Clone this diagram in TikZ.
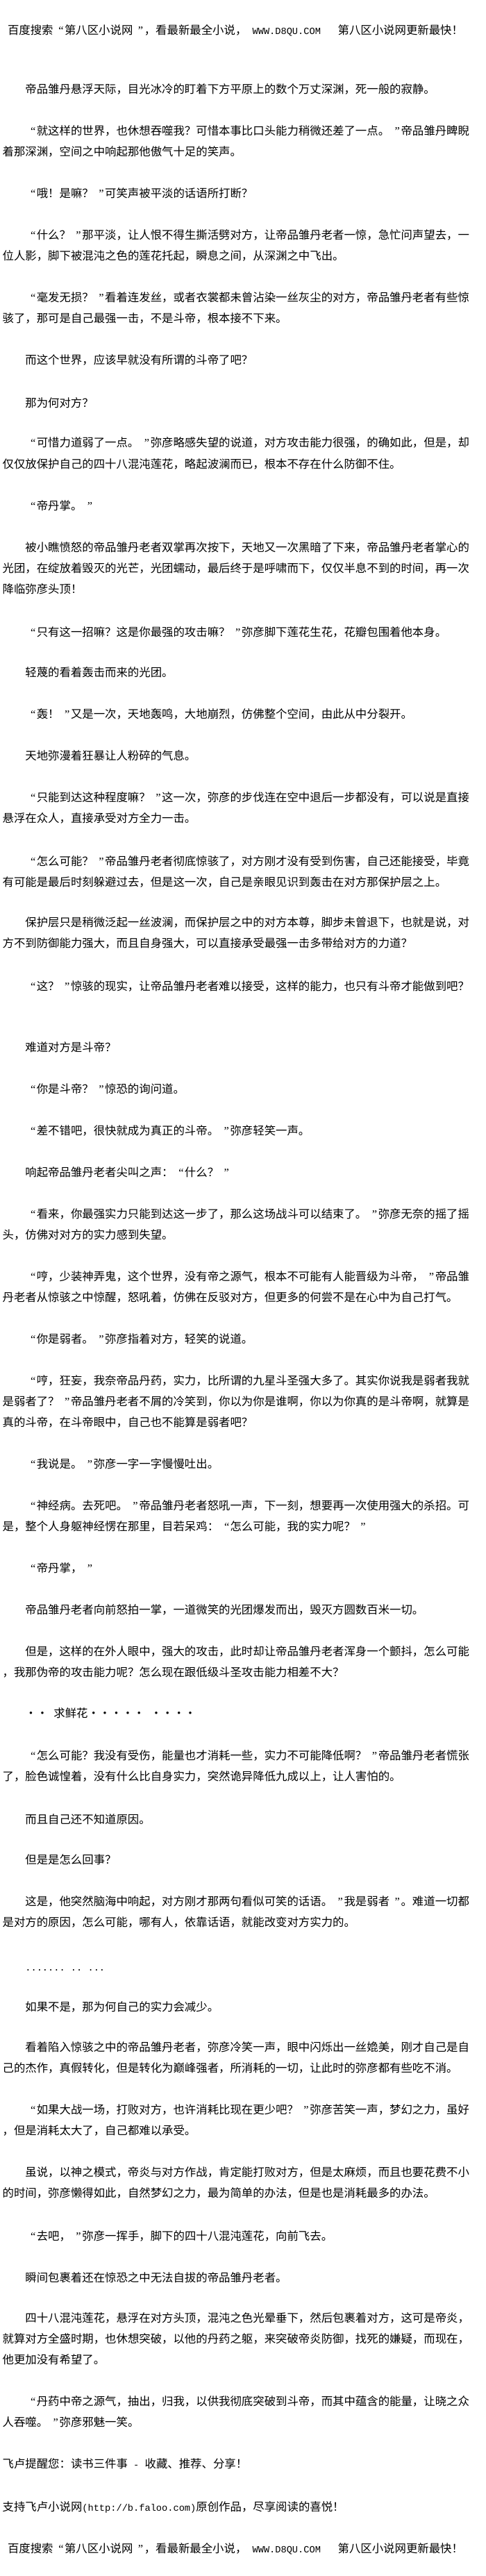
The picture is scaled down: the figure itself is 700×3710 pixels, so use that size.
\documentclass[tikz,border=0pt]{standalone}
\usepackage{fontspec}
\setmainfont{Noto Sans CJK SC}
\newfontfamily\mono{Liberation Mono}[Scale=0.8333]
\newfontfamily\qf{Liberation Serif}
\newcommand\oq{\makebox[1em][r]{{\qf “}\hspace{0.08em}}}
\newcommand\cq{\makebox[1em][r]{{\qf ”}\hspace{0.1em}}}
\newcommand\hsp{{\mono~}}
\begin{document}
\begin{tikzpicture}[x=1pt,y=-1pt,
  txt/.style={anchor=base west,inner sep=0pt,outer sep=0pt,yshift=-6.2pt,
    font=\fontsize{16.4pt}{20pt}\selectfont}]
\fill[white] (0,0) rectangle (700,3710);
\useasboundingbox (0,0) rectangle (700,3710);
\node[txt] (l01) at (11,43) {百度搜索\oq{}第八区小说网\cq{}，看最新最全小说，{\mono~WWW.D8QU.COM~~~}第八区小说网更新最快！};
\node[txt] (l02) at (36.4,128) {帝品雏丹悬浮天际，目光冰冷的盯着下方平原上的数个万丈深渊，死一般的寂静。};
\node[txt] (l03) at (36.4,188) {\oq{}就这样的世界，也休想吞噬我？可惜本事比口头能力稍微还差了一点。\cq{}帝品雏丹睥睨};
\node[txt] (l04) at (3.6,218) {着那深渊，空间之中响起那他傲气十足的笑声。};
\node[txt] (l05) at (36.4,278) {\oq{}哦！是嘛？\cq{}可笑声被平淡的话语所打断？};
\node[txt] (l06) at (36.4,338) {\oq{}什么？\cq{}那平淡，让人恨不得生撕活劈对方，让帝品雏丹老者一惊，急忙问声望去，一};
\node[txt] (l07) at (3.6,368) {位人影，脚下被混沌之色的莲花托起，瞬息之间，从深渊之中飞出。};
\node[txt] (l08) at (36.4,428) {\oq{}毫发无损？\cq{}看着连发丝，或者衣裳都未曾沾染一丝灰尘的对方，帝品雏丹老者有些惊};
\node[txt] (l09) at (3.6,458) {骇了，那可是自己最强一击，不是斗帝，根本接不下来。};
\node[txt] (l10) at (36.4,518) {而这个世界，应该早就没有所谓的斗帝了吧？};
\node[txt] (l11) at (36.4,580) {那为何对方？};
\node[txt] (l12) at (36.4,637) {\oq{}可惜力道弱了一点。\cq{}弥彦略感失望的说道，对方攻击能力很强，的确如此，但是，却};
\node[txt] (l13) at (3.6,668) {仅仅放保护自己的四十八混沌莲花，略起波澜而已，根本不存在什么防御不住。};
\node[txt] (l14) at (36.4,728) {\oq{}帝丹掌。\cq{}};
\node[txt] (l15) at (36.4,788) {被小瞧愤怒的帝品雏丹老者双掌再次按下，天地又一次黑暗了下来，帝品雏丹老者掌心的};
\node[txt] (l16) at (3.6,818) {光团，在绽放着毁灭的光芒，光团蠕动，最后终于是呼啸而下，仅仅半息不到的时间，再一次};
\node[txt] (l17) at (3.6,848) {降临弥彦头顶！};
\node[txt] (l18) at (36.4,910) {\oq{}只有这一招嘛？这是你最强的攻击嘛？\cq{}弥彦脚下莲花生花，花瓣包围着他本身。};
\node[txt] (l19) at (36.4,968) {轻蔑的看着轰击而来的光团。};
\node[txt] (l20) at (36.4,1028) {\oq{}轰！\cq{}又是一次，天地轰鸣，大地崩烈，仿佛整个空间，由此从中分裂开。};
\node[txt] (l21) at (36.4,1088) {天地弥漫着狂暴让人粉碎的气息。};
\node[txt] (l22) at (36.4,1148) {\oq{}只能到达这种程度嘛？\cq{}这一次，弥彦的步伐连在空中退后一步都没有，可以说是直接};
\node[txt] (l23) at (3.6,1178) {悬浮在众人，直接承受对方全力一击。};
\node[txt] (l24) at (36.4,1240) {\oq{}怎么可能？\cq{}帝品雏丹老者彻底惊骇了，对方刚才没有受到伤害，自己还能接受，毕竟};
\node[txt] (l25) at (3.6,1270) {有可能是最后时刻躲避过去，但是这一次，自己是亲眼见识到轰击在对方那保护层之上。};
\node[txt] (l26) at (36.4,1328) {保护层只是稍微泛起一丝波澜，而保护层之中的对方本尊，脚步未曾退下，也就是说，对};
\node[txt] (l27) at (3.6,1358) {方不到防御能力强大，而且自身强大，可以直接承受最强一击多带给对方的力道？};
\node[txt] (l28) at (36.4,1420) {\oq{}这？\cq{}惊骇的现实，让帝品雏丹老者难以接受，这样的能力，也只有斗帝才能做到吧？};
\node[txt] (l29) at (36.4,1508) {难道对方是斗帝？};
\node[txt] (l30) at (36.4,1568) {\oq{}你是斗帝？\cq{}惊恐的询问道。};
\node[txt] (l31) at (36.4,1628) {\oq{}差不错吧，很快就成为真正的斗帝。\cq{}弥彦轻笑一声。};
\node[txt] (l32) at (36.4,1688) {响起帝品雏丹老者尖叫之声：\oq{}什么？\cq{}};
\node[txt] (l33) at (36.4,1748) {\oq{}看来，你最强实力只能到达这一步了，那么这场战斗可以结束了。\cq{}弥彦无奈的摇了摇};
\node[txt] (l34) at (3.6,1778) {头，仿佛对对方的实力感到失望。};
\node[txt] (l35) at (36.4,1838) {\oq{}哼，少装神弄鬼，这个世界，没有帝之源气，根本不可能有人能晋级为斗帝，\cq{}帝品雏};
\node[txt] (l36) at (3.6,1868) {丹老者从惊骇之中惊醒，怒吼着，仿佛在反驳对方，但更多的何尝不是在心中为自己打气。};
\node[txt] (l37) at (36.4,1928) {\oq{}你是弱者。\cq{}弥彦指着对方，轻笑的说道。};
\node[txt] (l38) at (36.4,1988) {\oq{}哼，狂妄，我奈帝品丹药，实力，比所谓的九星斗圣强大多了。其实你说我是弱者我就};
\node[txt] (l39) at (3.6,2018) {是弱者了？\cq{}帝品雏丹老者不屑的冷笑到，你以为你是谁啊，你以为你真的是斗帝啊，就算是};
\node[txt] (l40) at (3.6,2048) {真的斗帝，在斗帝眼中，自己也不能算是弱者吧？};
\node[txt] (l41) at (36.4,2108) {\oq{}我说是。\cq{}弥彦一字一字慢慢吐出。};
\node[txt] (l42) at (36.4,2168) {\oq{}神经病。去死吧。\cq{}帝品雏丹老者怒吼一声，下一刻，想要再一次使用强大的杀招。可};
\node[txt] (l43) at (3.6,2198) {是，整个人身躯神经愣在那里，目若呆鸡：\oq{}怎么可能，我的实力呢？\cq{}};
\node[txt] (l44) at (36.4,2258) {\oq{}帝丹掌，\cq{}};
\node[txt] (l45) at (36.4,2318) {帝品雏丹老者向前怒拍一掌，一道微笑的光团爆发而出，毁灭方圆数百米一切。};
\node[txt] (l46) at (36.4,2378) {但是，这样的在外人眼中，强大的攻击，此时却让帝品雏丹老者浑身一个颤抖，怎么可能};
\node[txt] (l47) at (3.6,2408) {，我那伪帝的攻击能力呢？怎么现在跟低级斗圣攻击能力相差不大？};
\node[txt] (l48) at (36.4,2467) {・・\hsp{}求鲜花・・・・・\hsp{}・・・・};
\node[txt] (l49) at (36.4,2528) {\oq{}怎么可能？我没有受伤，能量也才消耗一些，实力不可能降低啊？\cq{}帝品雏丹老者慌张};
\node[txt] (l50) at (3.6,2558) {了，脸色诚惶着，没有什么比自身实力，突然诡异降低九成以上，让人害怕的。};
\node[txt] (l51) at (36.4,2620) {而且自己还不知道原因。};
\node[txt] (l52) at (36.4,2678) {但是是怎么回事？};
\node[txt] (l53) at (36.4,2738) {这是，他突然脑海中响起，对方刚才那两句看似可笑的话语。\cq{}我是弱者\cq{}。难道一切都};
\node[txt] (l54) at (3.6,2768) {是对方的原因，怎么可能，哪有人，依靠话语，就能改变对方实力的。};
\node[txt] (l55) at (36.4,2832) {{\mono .......~..~...}};
\node[txt] (l56) at (36.4,2890) {如果不是，那为何自己的实力会减少。};
\node[txt] (l57) at (36.4,2948) {看着陷入惊骇之中的帝品雏丹老者，弥彦冷笑一声，眼中闪烁出一丝嫓美，刚才自己是自};
\node[txt] (l58) at (3.6,2978) {己的杰作，真假转化，但是转化为巅峰强者，所消耗的一切，让此时的弥彦都有些吃不消。};
\node[txt] (l59) at (36.4,3038) {\oq{}如果大战一场，打败对方，也许消耗比现在更少吧？\cq{}弥彦苦笑一声，梦幻之力，虽好};
\node[txt] (l60) at (3.6,3068) {，但是消耗太大了，自己都难以承受。};
\node[txt] (l61) at (36.4,3128) {虽说，以神之模式，帝炎与对方作战，肯定能打败对方，但是太麻烦，而且也要花费不小};
\node[txt] (l62) at (3.6,3158) {的时间，弥彦懒得如此，自然梦幻之力，最为简单的办法，但是也是消耗最多的办法。};
\node[txt] (l63) at (36.4,3220) {\oq{}去吧，\cq{}弥彦一挥手，脚下的四十八混沌莲花，向前飞去。};
\node[txt] (l64) at (36.4,3280) {瞬间包裹着还在惊恐之中无法自拔的帝品雏丹老者。};
\node[txt] (l65) at (36.4,3338) {四十八混沌莲花，悬浮在对方头顶，混沌之色光晕垂下，然后包裹着对方，这可是帝炎，};
\node[txt] (l66) at (3.6,3368) {就算对方全盛时期，也休想突破，以他的丹药之躯，来突破帝炎防御，找死的嫌疑，而现在，};
\node[txt] (l67) at (3.6,3398) {他更加没有希望了。};
\node[txt] (l68) at (36.4,3458) {\oq{}丹药中帝之源气，抽出，归我，以供我彻底突破到斗帝，而其中蕴含的能量，让晓之众};
\node[txt] (l69) at (3.6,3488) {人吞噬。\cq{}弥彦邪魅一笑。};
\node[txt] (l70) at (3.6,3548) {飞卢提醒您：读书三件事{\mono~-~}收藏、推荐、分享！};
\node[txt] (l71) at (3.6,3610) {支持飞卢小说网{\mono(http://b.faloo.com)}原创作品，尽享阅读的喜悦！};
\node[txt] (l72) at (11,3670) {百度搜索\oq{}第八区小说网\cq{}，看最新最全小说，{\mono~WWW.D8QU.COM~~~}第八区小说网更新最快！};
\end{tikzpicture}
\end{document}
